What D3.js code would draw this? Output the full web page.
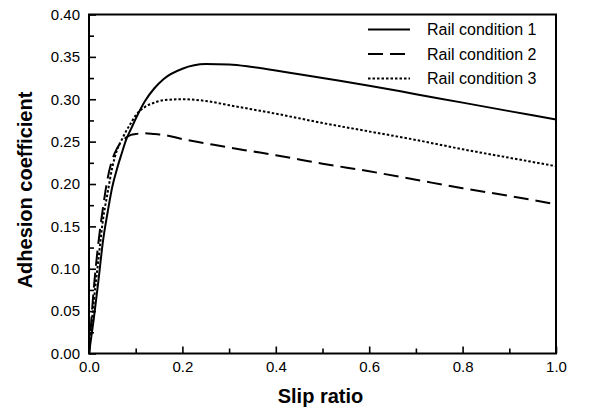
<!DOCTYPE html>
<html>
<head>
<meta charset="utf-8">
<script src="https://cdn.jsdelivr.net/npm/d3@7"></script>
<style>
  html, body { margin: 0; padding: 0; background: #fff; }
  svg { display: block; }
  text { font-family: "Liberation Sans", Arial, sans-serif; fill: #000; }
</style>
</head>
<body>
<svg id="chart" width="589" height="412"></svg>
<script>
// Slip ratio samples shared by all three rail conditions
const slip = [0, 0.01, 0.02, 0.03, 0.04, 0.05, 0.06, 0.07, 0.08, 0.09, 0.10, 0.12, 0.14, 0.16,
              0.20, 0.25, 0.30, 0.35, 0.40, 0.45, 0.50, 0.60, 0.70, 0.80, 0.90, 1.00];

// Adhesion coefficient for each rail condition
const rail1 = [0, 0.040, 0.085, 0.133, 0.167, 0.197, 0.218, 0.236, 0.253, 0.265, 0.277, 0.298, 0.313, 0.324,
               0.336, 0.3415, 0.3410, 0.338, 0.334, 0.3295, 0.325, 0.316, 0.306, 0.296, 0.286, 0.276];
const rail2 = [0, 0.075, 0.130, 0.172, 0.207, 0.229, 0.242, 0.250, 0.255, 0.258, 0.259, 0.260, 0.259, 0.258,
               0.253, 0.248, 0.243, 0.2385, 0.234, 0.229, 0.224, 0.215, 0.205, 0.195, 0.186, 0.176];
const rail3 = [0, 0.060, 0.110, 0.158, 0.190, 0.220, 0.240, 0.252, 0.263, 0.272, 0.281, 0.291, 0.296, 0.299,
               0.300, 0.298, 0.293, 0.288, 0.283, 0.2775, 0.272, 0.262, 0.252, 0.241, 0.231, 0.221];

const seriesNames = ["Rail condition 1", "Rail condition 2", "Rail condition 3"];
const seriesValues = [rail1, rail2, rail3];
const seriesDash = [null, "15,7", "2.5,2"];

const xTicks = [0, 0.2, 0.4, 0.6, 0.8, 1.0];
const xMinorTicks = [0.1, 0.3, 0.5, 0.7, 0.9];
const yTicks = [0, 0.05, 0.10, 0.15, 0.20, 0.25, 0.30, 0.35, 0.40];
const yMinorTicks = [0.025, 0.075, 0.125, 0.175, 0.225, 0.275, 0.325, 0.375];

const svg = d3.select("#chart");
const plotLeft = 89, plotRight = 556, plotTop = 14.5, plotBottom = 353.5;

const x = d3.scaleLinear().domain([0, 1]).range([plotLeft, plotRight]);
const y = d3.scaleLinear().domain([0, 0.4]).range([plotBottom, plotTop]);

// Axes with inward ticks
const gx = svg.append("g").attr("transform", `translate(0,${plotBottom})`)
  .call(d3.axisBottom(x).tickValues(xTicks).tickFormat(d3.format(".1f"))
    .tickSize(-7).tickPadding(8));
const gxm = svg.append("g").attr("transform", `translate(0,${plotBottom})`)
  .call(d3.axisBottom(x).tickValues(xMinorTicks).tickFormat("").tickSize(-5));
const gy = svg.append("g").attr("transform", `translate(${plotLeft},0)`)
  .call(d3.axisLeft(y).tickValues(yTicks).tickFormat(d3.format(".2f"))
    .tickSize(-7).tickPadding(9));
const gym = svg.append("g").attr("transform", `translate(${plotLeft},0)`)
  .call(d3.axisLeft(y).tickValues(yMinorTicks).tickFormat("").tickSize(-5));

[gx, gxm, gy, gym].forEach(g => {
  g.select(".domain").remove();
  g.selectAll(".tick line").attr("stroke", "#000").attr("stroke-width", 1.6);
  g.selectAll(".tick text").style("font-family", "'Liberation Sans', Arial, sans-serif")
    .style("font-size", "15px").attr("fill", "#000");
});

// Plot frame
svg.append("rect")
  .attr("x", plotLeft).attr("y", plotTop)
  .attr("width", plotRight - plotLeft).attr("height", plotBottom - plotTop)
  .attr("fill", "none").attr("stroke", "#000").attr("stroke-width", 2);

// Curves
const line = d3.line()
  .x((d, i) => x(slip[i]))
  .y(d => y(d))
  .curve(d3.curveMonotoneX);

seriesValues.forEach((vals, k) => {
  svg.append("path")
    .datum(vals)
    .attr("d", line)
    .attr("fill", "none")
    .attr("stroke", "#000")
    .attr("stroke-width", 2)
    .attr("stroke-dasharray", seriesDash[k]);
});

// Legend
const legend = svg.append("g");
seriesNames.forEach((name, k) => {
  const cy = 29.5 + k * 24.5;
  legend.append("line")
    .attr("x1", 368).attr("x2", 410).attr("y1", cy).attr("y2", cy)
    .attr("stroke", "#000").attr("stroke-width", 2)
    .attr("stroke-dasharray", seriesDash[k]);
  legend.append("text")
    .attr("x", 427).attr("y", cy + 5.5)
    .style("font-size", "16px")
    .text(name);
});

// Axis titles
svg.append("text")
  .attr("x", (plotLeft + plotRight) / 2 - 2).attr("y", 403)
  .attr("text-anchor", "middle")
  .style("font-size", "20px").style("font-weight", "bold")
  .text("Slip ratio");

svg.append("text")
  .attr("transform", `translate(32,190) rotate(-90)`)
  .attr("text-anchor", "middle")
  .style("font-size", "20px").style("font-weight", "bold")
  .text("Adhesion coefficient");
</script>
</body>
</html>
